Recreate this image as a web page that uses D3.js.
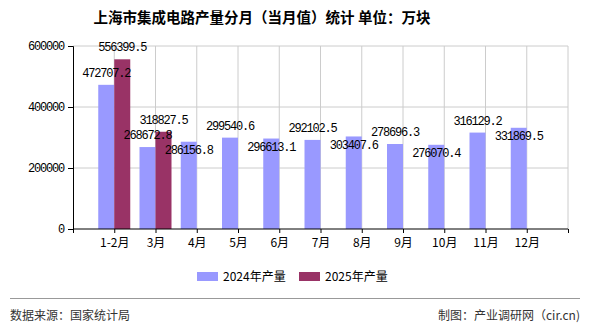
<!DOCTYPE html>
<html><head><meta charset="utf-8">
<script src="https://cdn.jsdelivr.net/npm/d3@7/dist/d3.min.js"></script>
<style>body{margin:0;background:#fff}svg{display:block}</style>
</head><body>
<svg id="c" width="590" height="330"></svg>
<script>
const categories = ["1-2月","3月","4月","5月","6月","7月","8月","9月","10月","11月","12月"];
const values2024 = [472707.2,268672.8,286156.8,299540.6,296613.1,292102.5,303407.6,278696.3,276070.4,316129.2,331869.5];
const values2025 = [556399.5,318827.5];
const seriesNames = ["2024年产量","2025年产量"];
const yTicks = [0,200000,400000,600000];
const colors = ["#9999ff","#993366"];

const svg = d3.select("#c");
const L=73,R=568,T=46,B=229;
const x = d3.scaleLinear().domain([0,categories.length+1]).range([L,R]);
const y = d3.scaleLinear().domain([0,600000]).range([B,T]);
const bw = 16;
const numFont = "'Liberation Mono', monospace";
const cjk = "'Noto Sans CJK SC', sans-serif";

// title
svg.append("text").attr("x",262).attr("y",23).attr("text-anchor","middle")
  .attr("font-family",cjk).attr("font-size",14.5).attr("font-weight","bold").attr("fill","#000")
  .text("上海市集成电路产量分月（当月值）统计 单位：万块");

// grid
const g = svg.append("g");
g.selectAll(".hg").data(yTicks.filter(d=>d>0)).enter().append("line")
  .attr("x1",L).attr("x2",R).attr("y1",d=>y(d)).attr("y2",d=>y(d)).attr("stroke","#cccccc");
const vt = d3.range(1,categories.length+2);
g.selectAll(".vg").data(vt).enter().append("line")
  .attr("x1",d=>x(d)).attr("x2",d=>x(d)).attr("y1",T).attr("y2",B).attr("stroke","#cccccc");

// bars
const allSeries=[values2024,values2025];
allSeries.forEach((vals,si)=>{
  svg.append("g").selectAll("rect").data(vals).enter().append("rect")
    .attr("x",(d,i)=>si===0? x(i+1)-bw : x(i+1))
    .attr("width",bw)
    .attr("y",d=>y(d)).attr("height",d=>B-y(d))
    .attr("fill",colors[si]);
});

// axes
const ya = d3.axisLeft(y).tickValues(yTicks).tickSize(5).tickFormat(d3.format("d"));
const yg = svg.append("g").attr("transform",`translate(${L},0)`).call(ya);
yg.select(".domain").attr("stroke","#000");
yg.selectAll("text").attr("font-family",numFont).attr("font-size",12).attr("letter-spacing","-1.2px").attr("fill","#000").attr("dx",-1);
const xa = d3.axisBottom(x).tickValues(d3.range(0,categories.length+2)).tickSize(4)
  .tickFormat(d=> (d>=1&&d<=categories.length)? categories[d-1] : "");
const xg = svg.append("g").attr("transform",`translate(0,${B})`).call(xa);
xg.select(".domain").attr("stroke","#000").attr("d",`M${L},0H${R}`);
xg.selectAll("text").attr("font-family",cjk).attr("font-size",12).attr("fill","#000").attr("dy","0.95em");

// labels
function addLabels(vals,si){
  svg.append("g").selectAll("text").data(vals).enter().append("text")
    .attr("x",(d,i)=> (si===0? x(i+1)-bw/2 : x(i+1)+bw/2))
    .attr("y",(d,i)=>{
      const above = si===1 || i===0 || i%2===1;
      return above ? y(d)-8 : y(d)+12.5;
    })
    .attr("text-anchor","middle").attr("font-family",numFont).attr("font-size",12)
    .attr("letter-spacing","-1.2px").attr("fill","#000")
    .text(d=>d3.format(".1f")(d));
}
addLabels(values2024,0);
addLabels(values2025,1);

// legend
const lg = svg.append("g");
const lx=[197,299];
seriesNames.forEach((n,i)=>{
  lg.append("rect").attr("x",lx[i]).attr("y",272).attr("width",21).attr("height",9).attr("fill",colors[i]);
  lg.append("text").attr("x",lx[i]+26).attr("y",281).attr("font-family",cjk).attr("font-size",12).attr("fill","#000").text(n);
});

// footer
svg.append("line").attr("x1",10).attr("x2",580).attr("y1",298.5).attr("y2",298.5).attr("stroke","#999").attr("stroke-width",1);
svg.append("text").attr("x",10).attr("y",320).attr("font-family",cjk).attr("font-size",12).attr("fill","#333").text("数据来源：国家统计局");
svg.append("text").attr("x",580).attr("y",320).attr("text-anchor","end").attr("font-family",cjk).attr("font-size",12).attr("fill","#333").text("制图：产业调研网（cir.cn)");
</script>
</body></html>
